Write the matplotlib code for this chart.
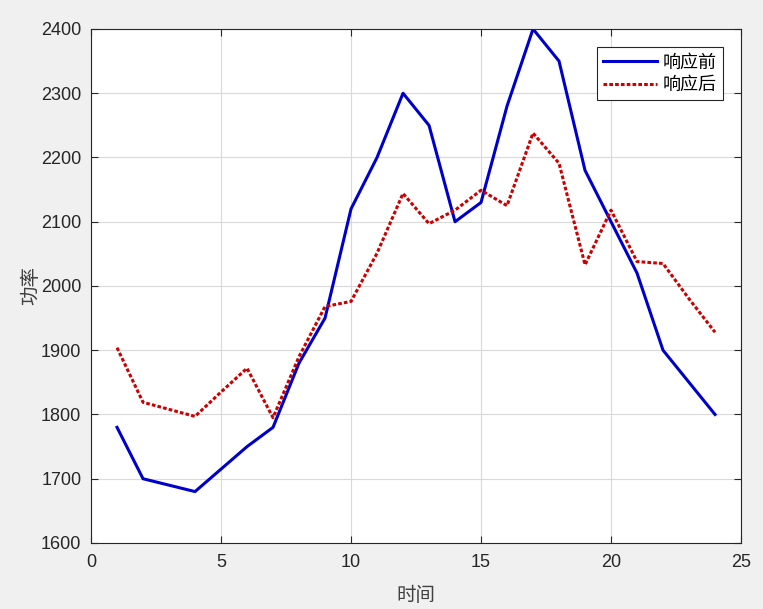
import matplotlib
matplotlib.use("Agg")
import matplotlib.pyplot as plt

hours = list(range(1, 25))
before = [1780, 1700, 1690, 1680, 1715, 1750, 1780, 1880, 1950, 2120, 2200, 2300,
          2250, 2100, 2130, 2280, 2400, 2350, 2180, 2100, 2020, 1900, 1850, 1800]
after = [1904, 1819, 1808, 1797, 1835, 1872, 1795, 1890, 1968, 1976, 2051, 2144,
         2097, 2118, 2149, 2125, 2238, 2191, 2033, 2118, 2038, 2035, 1980, 1928]

plt.rcParams['font.family'] = ['Liberation Sans', 'Noto Sans CJK SC', 'DejaVu Sans']

fig = plt.figure(figsize=(7.63, 6.09), dpi=100, facecolor='#f0f0f0')
ax = fig.add_axes([0.1193, 0.1084, 0.8519, 0.844])

ax.plot(hours, before, color='#0000cc', linewidth=2.2, label='响应前')
ax.plot(hours, after, color='#cc0000', linewidth=2.2, linestyle=(0, (1.2, 0.7)), label='响应后')

ax.set_xlim(0, 25)
ax.set_ylim(1600, 2400)
ax.set_xticks([0, 5, 10, 15, 20, 25])
ax.set_yticks(range(1600, 2401, 100))
ax.tick_params(direction='in', top=True, right=True, labelsize=13, colors='#262626',
               length=5, width=0.8)
ax.tick_params(axis='x', pad=8)
ax.tick_params(axis='y', pad=7)
for s in ax.spines.values():
    s.set_color('#262626')
    s.set_linewidth(0.8)
ax.grid(True, color='#d9d9d9', linewidth=0.8)

ax.set_xlabel('时间', fontsize=14, color='#404040', family=['Noto Sans CJK SC'], labelpad=10)
ax.set_ylabel('功率', fontsize=14, color='#404040', family=['Noto Sans CJK SC'], labelpad=0)

leg = ax.legend(loc='upper right', fancybox=False, edgecolor='#262626',
                framealpha=1, borderaxespad=1.0, handlelength=3.0, handletextpad=0.3,
                labelspacing=0.25, borderpad=0.35, prop={'family': ['Noto Sans CJK SC'], 'size': 13})
leg.get_frame().set_linewidth(0.8)

fig.savefig('out.png', dpi=100, facecolor=fig.get_facecolor())
